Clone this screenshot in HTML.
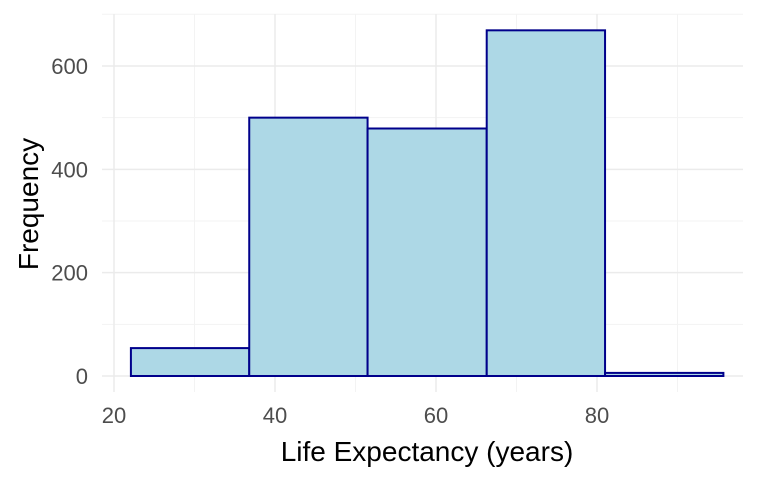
<!DOCTYPE html>
<html><head><style>
body{margin:0;background:#fff;}
svg text{font-family:"Liberation Sans",Arial,sans-serif;}
</style></head><body>
<svg width="768" height="480">
<g id="grid"></g>
<g id="bars"></g>
<g id="ticks"></g>
<text x="427" y="461" text-anchor="middle" font-size="28" fill="#000">Life Expectancy (years)</text>
<text transform="translate(38,204) rotate(-90)" text-anchor="middle" font-size="28" fill="#000">Frequency</text>
</svg>
<script>
const binEdges=[22.1,36.8,51.5,66.3,81.0,95.7];
const counts=[54,500,479,669,6];
const xTicks=[20,40,60,80];
const yTicks=[0,200,400,600];
const xMinor=[30,50,70,90];
const yMinor=[100,300,500,700];
const PL=102,PR=743,PT=14,PB=392;
const xs=v=>114+(v-20)*8.05;
const ys=v=>376-v*0.5167;
const ns='http://www.w3.org/2000/svg';
function mk(t,a,p){const e=document.createElementNS(ns,t);for(const k in a)e.setAttribute(k,a[k]);p.appendChild(e);return e;}
const g=document.getElementById('grid'),b=document.getElementById('bars'),t=document.getElementById('ticks');
xMinor.forEach(v=>{const e=mk('line',{x1:xs(v),x2:xs(v),y1:PT,y2:PB,stroke:'#f3f3f3','stroke-width':1},g);

});
yMinor.forEach(v=>{const e=mk('line',{x1:PL,x2:PR,y1:ys(v),y2:ys(v),stroke:'#f3f3f3','stroke-width':1},g);

});
xTicks.forEach(v=>{const e=mk('line',{x1:xs(v),x2:xs(v),y1:PT,y2:PB,stroke:'#ebebeb','stroke-width':1.5},g);


const l=mk('text',{x:xs(v),y:423,'text-anchor':'middle','font-size':22,fill:'#4d4d4d'},t);l.textContent=v;

});
yTicks.forEach(v=>{const e=mk('line',{x1:PL,x2:PR,y1:ys(v),y2:ys(v),stroke:'#ebebeb','stroke-width':1.5},g);


const l=mk('text',{x:88,y:ys(v)+8,'text-anchor':'end','font-size':22,fill:'#4d4d4d'},t);l.textContent=v;

});
counts.forEach((c,i)=>{const x0=xs(binEdges[i]),x1=xs(binEdges[i+1]);
const r=mk('rect',{x:x0,y:ys(c),width:x1-x0,height:ys(0)-ys(c),fill:'#add8e6',stroke:'#00008b','stroke-width':2},b);

});
</script>
</body></html>
